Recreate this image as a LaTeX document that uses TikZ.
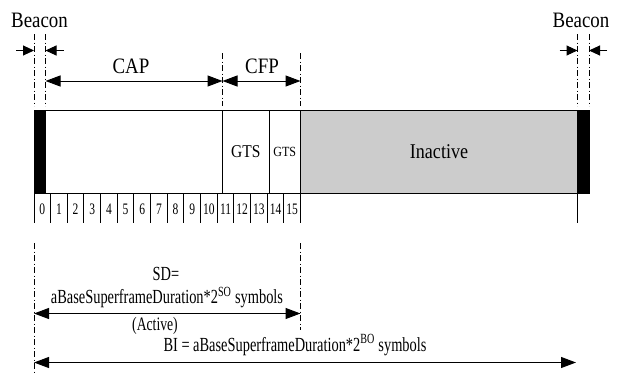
\documentclass[tikz,border=0pt]{standalone}
\usepackage{fontspec}
\setmainfont{Liberation Serif}
\newfontfamily\labelfont[FakeStretch=0.86]{Liberation Serif}
\newfontfamily\narrowfont[FakeStretch=0.72]{Liberation Serif}
\usetikzlibrary{arrows.meta,positioning,calc}
\tikzset{
  frame/.style={draw, line width=1pt, inner sep=0pt, outer sep=0pt, anchor=north west, minimum height=83pt},
  beaconbar/.style={frame, fill=black, minimum width=11.5pt},
  guide/.style={line width=0.6pt, dash pattern=on 6pt off 2.5pt on 1pt off 2.5pt},
  dimline/.style={arrows={Triangle[length=15pt,width=11pt]-Triangle[length=15pt,width=11pt]}, line width=1pt},
  tagline/.style={arrows={-Triangle[length=11pt,width=10pt]}, line width=1pt},
  tick/.style={line width=1pt},
  lbl/.style={font=\labelfont\fontsize{22}{25}\selectfont, inner sep=0pt},
  formula/.style={font=\narrowfont\fontsize{20}{23}\selectfont, inner sep=0pt},
  slotnum/.style={font=\narrowfont\fontsize{16}{18}\selectfont, inner sep=0pt}
}

\begin{document}
\begin{tikzpicture}[x=1pt, y=-1pt]
  \useasboundingbox (0,0) rectangle (619,375);

  % superframe body
  \node[beaconbar] (bcnA) at (34,110) {};
  \node[frame, minimum width=177pt] (cap) at (45.5,110) {};
  \node[frame, minimum width=46.5pt, font=\labelfont\fontsize{18}{20}\selectfont] (gtsA) at (222.5,110) {GTS};
  \node[frame, minimum width=31.5pt, font=\labelfont\fontsize{14}{16}\selectfont] (gtsB) at (269,110) {GTS};
  \node[frame, minimum width=277pt, fill=black!20, font=\labelfont\fontsize{21}{24}\selectfont] (inact) at (300.5,110) {Inactive};
  \node[beaconbar] (bcnB) at (577.5,110) {};

  % slot numbers
  \foreach \i in {0,...,16}
    \draw[tick] (34+\i*16.66,193) -- ++(0,30);
  \foreach \i in {0,...,15}
    \node[slotnum] (slot\i) at (42.3+\i*16.66,209) {\i};
  \draw[tick] (bcnB.south west) -- ++(0,30);

  % guide lines, top
  \foreach \gx/\gy in {34/34, 45.5/34, 222.5/53, 300.5/53, 577.5/34, 589/34}
    \draw[guide] (\gx,\gy) -- (\gx,106);
  % guide lines, bottom
  \draw[guide] (34,243) -- (34,375);
  \draw[guide] (300.5,243) -- (300.5,330);

  % beacon markers
  \node[lbl] (bcnTxtA) at (39.5,20) {Beacon};
  \node[lbl] (bcnTxtB) at (581,20) {Beacon};
  \coordinate (bA1) at (34,50.5);
  \coordinate (bA2) at (45.5,50.5);
  \coordinate (bB1) at (577.5,50.5);
  \coordinate (bB2) at (589,50.5);
  \draw[tagline] ($(bA1)+(-18,0)$) -- (bA1);
  \draw[tagline] ($(bA2)+(18,0)$) -- (bA2);
  \draw[tagline] ($(bB1)+(-18,0)$) -- (bB1);
  \draw[tagline] ($(bB2)+(18,0)$) -- (bB2);

  % CAP / CFP
  \coordinate (capL) at (45.5,81);
  \coordinate (capR) at (222.5,81);
  \coordinate (cfpR) at (300.5,81);
  \draw[dimline] (capL) -- (capR);
  \draw[dimline] (capR) -- (cfpR);
  \node[lbl] (capTxt) at (131,66) {CAP};
  \node[lbl] (cfpTxt) at (262,66) {CFP};

  % active period and beacon interval
  \coordinate (sdL) at (34,313.5);
  \coordinate (sdR) at (300.5,313.5);
  \coordinate (biL) at (34,362.5);
  \coordinate (biR) at (576,362.5);
  \draw[dimline] (sdL) -- (sdR);
  \draw[dimline] (biL) -- (biR);
  \node[formula] (sdTxt) at (166,274) {SD=};
  \node[formula] (sdForm) at (167,297.5) {aBaseSuperframeDuration*2\textsuperscript{SO} symbols};
  \node[formula, font=\narrowfont\fontsize{19}{22}\selectfont] (actTxt) at (155,326) {(Active)};
  \node[formula] (biForm) at (295,345) {BI = aBaseSuperframeDuration*2\textsuperscript{BO} symbols};
\end{tikzpicture}
\end{document}
